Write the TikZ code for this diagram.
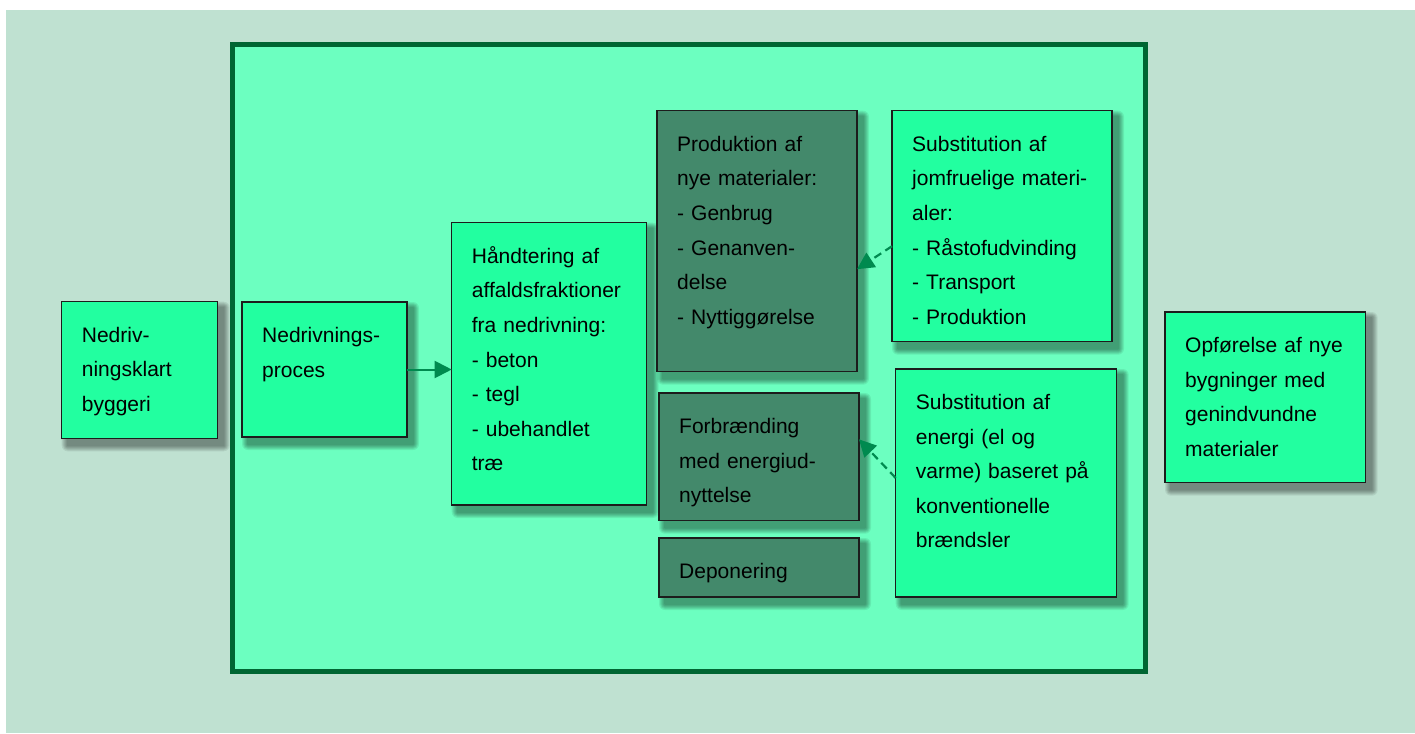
\documentclass[tikz,border=0pt]{standalone}
\usepackage{fontspec}
\setmainfont{Liberation Sans}
\usetikzlibrary{arrows.meta,calc}

\definecolor{bgcol}{HTML}{BFE1D1}
\definecolor{framefill}{HTML}{6CFFC0}
\definecolor{frameline}{HTML}{006633}
\definecolor{boxlight}{HTML}{22FFA0}
\definecolor{boxdark}{HTML}{43896B}
\definecolor{boxline}{HTML}{1C1C1C}
\definecolor{arrowcol}{HTML}{008A4F}

\pgfdeclarelayer{canvaslayer}
\pgfdeclarelayer{framelayer}
\pgfdeclarelayer{shadowlayer}
\pgfsetlayers{canvaslayer,framelayer,shadowlayer,main}

\begin{document}
\begin{tikzpicture}[x=1pt,y=-1pt,
  box/.style={draw=boxline, line width=1.3pt, inner sep=0pt, outer sep=0pt, anchor=north west},
  light/.style={box, fill=boxlight},
  dark/.style={box, fill=boxdark},
  txt/.style={anchor=base west, align=left, text width=230pt, inner sep=0pt,
    font=\fontsize{21}{34.6}\selectfont, xshift=20pt, yshift=-40.5pt},
  flow/.style={draw=arrowcol, line width=2pt, -{Triangle[length=17pt,width=17pt]}},
  feed/.style={flow, line width=2.2pt, dash pattern=on 8pt off 5pt}]

% canvas
\useasboundingbox (0,0) rectangle (1415,733);
\begin{pgfonlayer}{canvaslayer}
\fill[bgcol] (6,10) rectangle (1415,733);
\end{pgfonlayer}

% outer process frame
\begin{pgfonlayer}{framelayer}
\node[draw=frameline, fill=framefill, line width=5pt, inner sep=0pt, outer sep=0pt,
  anchor=north west, minimum width=913pt, minimum height=626pt] (frame) at (232,45) {};
\end{pgfonlayer}

% boxes
\node[light, minimum width=156pt, minimum height=136.6pt] (nk) at (61.7,301.7) {};
\node[light, minimum width=165pt, minimum height=135pt]   (np) at (242,302) {};
\node[light, minimum width=195pt, minimum height=282.3pt] (hf) at (451.7,222.7) {};
\node[dark,  minimum width=200pt, minimum height=261pt]   (pm) at (657,110.7) {};
\node[light, minimum width=220pt, minimum height=231pt]   (sj) at (892,110.7) {};
\node[dark,  minimum width=200pt, minimum height=127.7pt] (fe) at (659,393) {};
\node[dark,  minimum width=200pt, minimum height=59pt]    (dp) at (659,538) {};
\node[light, minimum width=221pt, minimum height=228pt]   (se) at (895.7,369) {};
\node[light, minimum width=200.7pt, minimum height=170.7pt] (op) at (1165,312) {};

% soft drop shadows
\begin{pgfonlayer}{shadowlayer}
\foreach \n in {nk,np,hf,pm,sj,fe,dp,se,op}{
  \foreach \r in {1,...,6}{
    \fill[black, opacity=0.075, rounded corners=\r pt]
      ([shift={(6-\r,6-\r)}]\n.north west) rectangle ([shift={(6+\r,7+\r)}]\n.south east);
  }
}
\end{pgfonlayer}

% box texts
\node[txt] (tnk) at (nk.north west) {Nedriv-\\ningsklart\\byggeri};
\node[txt] (tnp) at (np.north west) {Nedrivnings-\\proces};
\node[txt] (thf) at (hf.north west) {Håndtering af\\affaldsfraktioner\\fra nedrivning:\\- beton\\- tegl\\- ubehandlet\\træ};
\node[txt] (tpm) at (pm.north west) {Produktion af\\nye materialer:\\- Genbrug\\- Genanven-\\delse\\- Nyttiggørelse};
\node[txt] (tsj) at (sj.north west) {Substitution af\\jomfruelige materi-\\aler:\\- Råstofudvinding\\- Transport\\- Produktion};
\node[txt] (tfe) at (fe.north west) {Forbrænding\\med energiud-\\nyttelse};
\node[txt] (tdp) at (dp.north west) {Deponering};
\node[txt] (tse) at (se.north west) {Substitution af\\energi (el og\\varme) baseret på\\konventionelle\\brændsler};
\node[txt] (top) at (op.north west) {Opførelse af nye\\bygninger med\\genindvundne\\materialer};

% connectors
\draw[flow] (np.east) -- (np.east -| hf.west);
\draw[feed] ([yshift=-20pt]sj.west) -- ([yshift=-28pt]pm.east);
\draw[feed] ([yshift=5pt]se.west) -- ([yshift=17.5pt]fe.east);

\end{tikzpicture}
\end{document}
